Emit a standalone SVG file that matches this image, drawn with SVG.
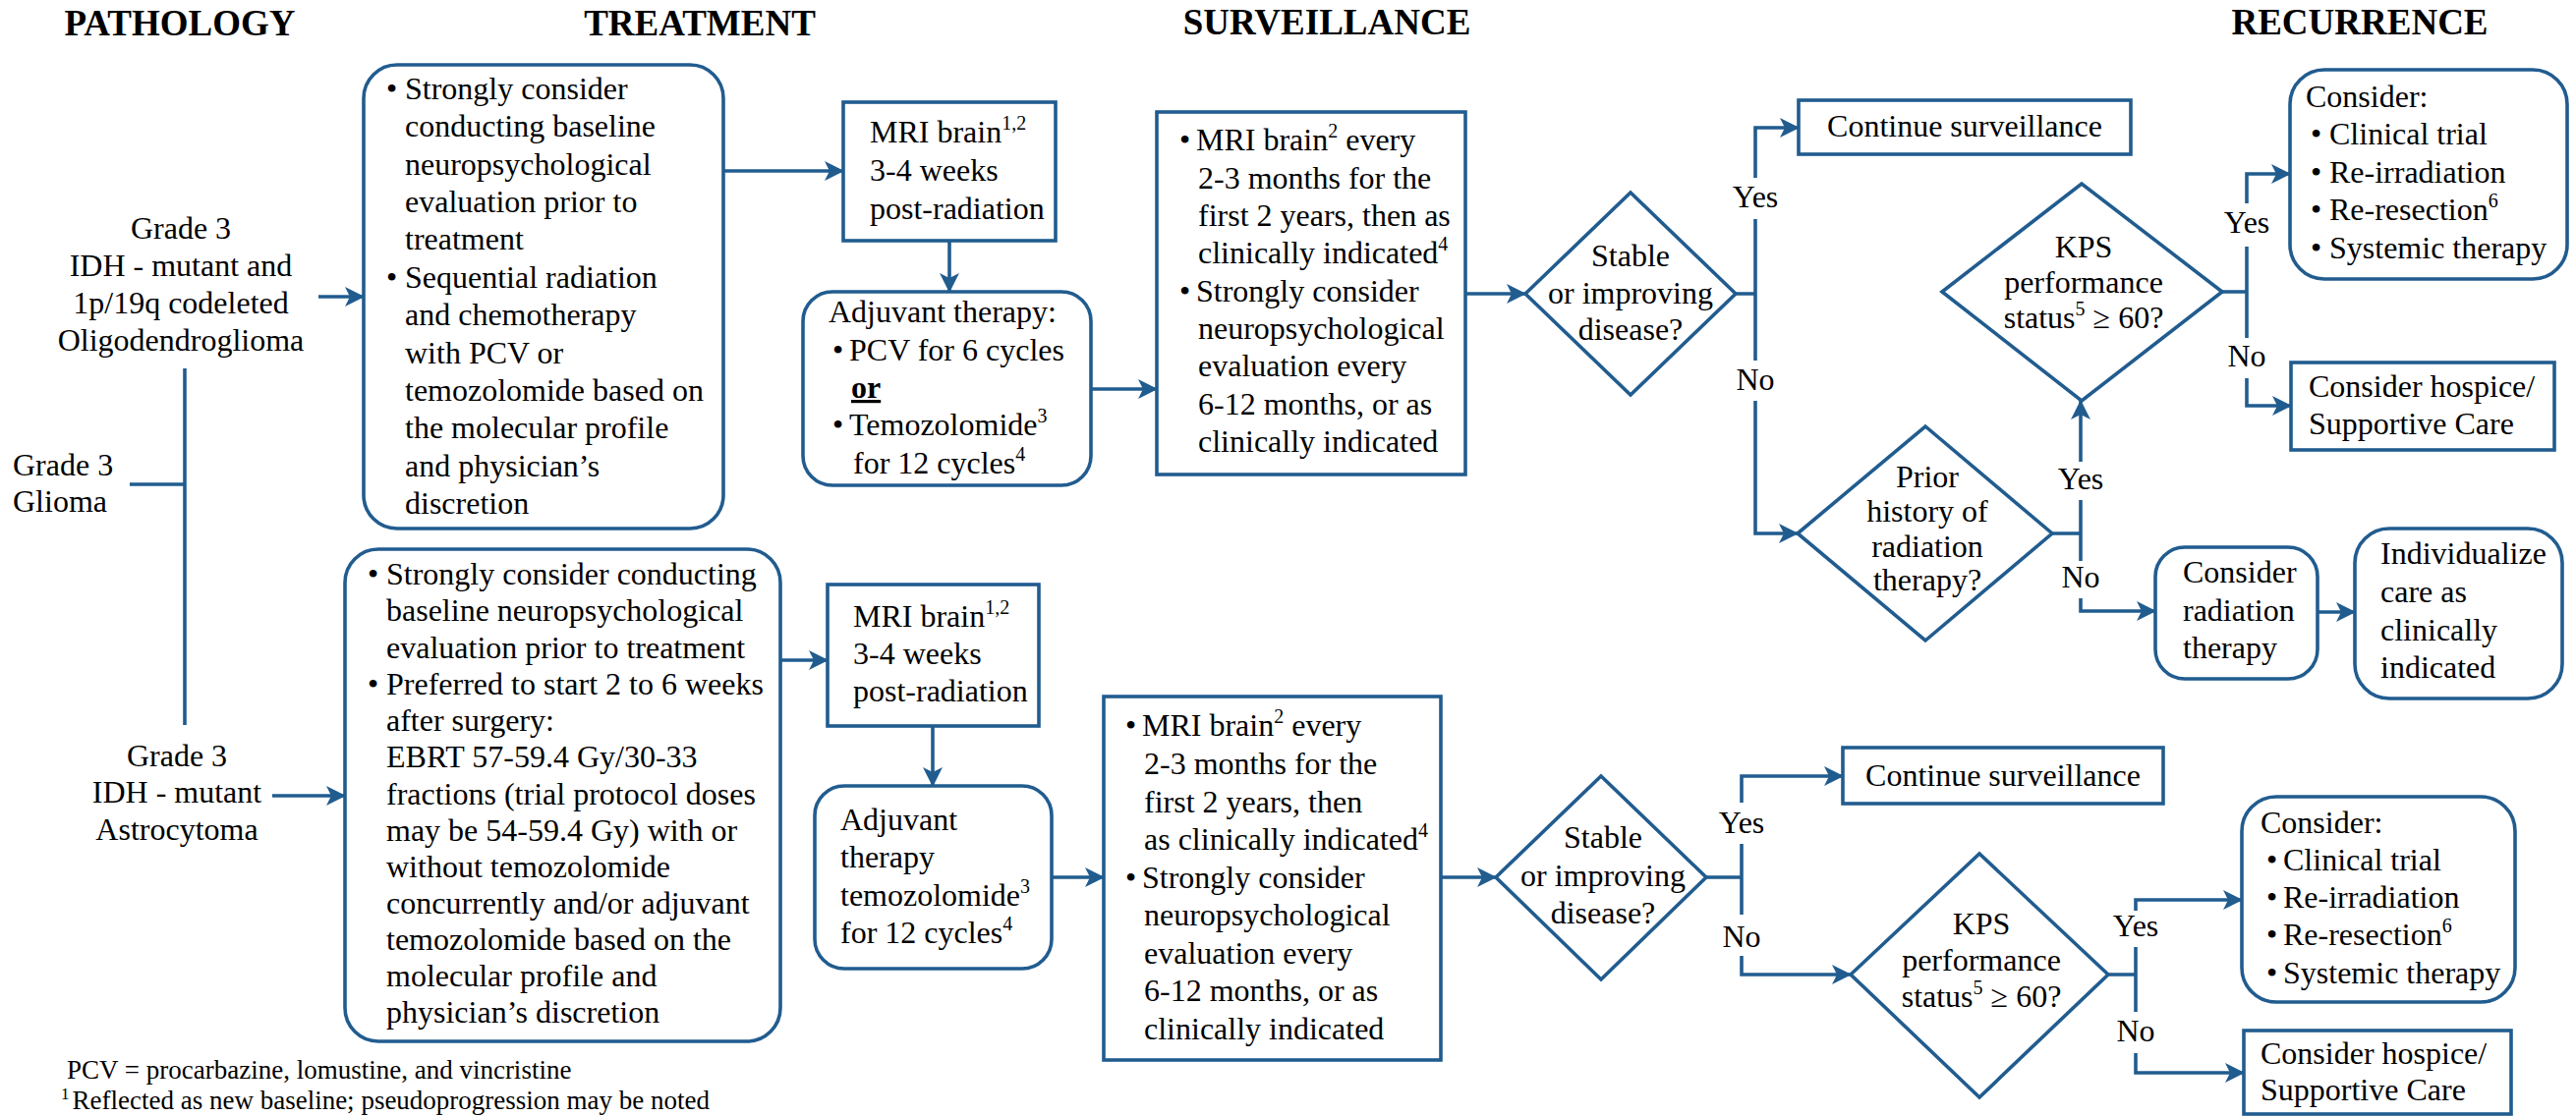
<svg xmlns="http://www.w3.org/2000/svg" width="2621" height="1136" viewBox="0 0 2621 1136">
<style>
text{font-family:"Liberation Serif","Times New Roman",serif;font-size:32px;fill:#000}
.h{font-weight:bold;font-size:37px;text-anchor:middle}
.c{text-anchor:middle}
.f{font-size:27px}
.box{fill:#fff;stroke:#215C8F;stroke-width:3.6}
.ln{fill:none;stroke:#215C8F;stroke-width:3.6}
.ar{marker-end:url(#ah)}
</style>
<defs>
<marker id="ah" markerUnits="userSpaceOnUse" markerWidth="22" markerHeight="20" refX="19" refY="10" orient="auto"><path d="M0,0 L20,10 L0,20 L5,10 z" fill="#215C8F"/></marker>
</defs>
<rect width="2621" height="1136" fill="#fff"/>

<g id="headings">
<text class="h" x="183" y="36">PATHOLOGY</text>
<text class="h" x="712" y="36">TREATMENT</text>
<text class="h" x="1350" y="35">SURVEILLANCE</text>
<text class="h" x="2401" y="35">RECURRENCE</text>
</g>

<g id="connectors">
<path class="ln ar" d="M324,302 H370"/>
<path class="ln" d="M132,493 H188 M188,375 V738"/>
<path class="ln ar" d="M277,810 H351"/>
<path class="ln ar" d="M736,174 H858"/>
<path class="ln ar" d="M966,245 V297"/>
<path class="ln ar" d="M1110,396 H1177"/>
<path class="ln ar" d="M1491,299 H1552"/>
<path class="ln" d="M1766,299 H1786 M1786,223 V367"/>
<path class="ln ar" d="M1786,181 V130 H1830"/>
<path class="ln ar" d="M1786,408 V543 H1829"/>
<path class="ln" d="M2088,543 H2117 M2117,509 V571"/>
<path class="ln ar" d="M2117,470 V408"/>
<path class="ln ar" d="M2117,609 V622 H2193"/>
<path class="ln" d="M2261,297 H2286 M2286,251 V344"/>
<path class="ln ar" d="M2286,207 V177 H2330"/>
<path class="ln ar" d="M2286,385 V413 H2331"/>
<path class="ln ar" d="M2358,623 H2396"/>
<path class="ln ar" d="M794,672 H842"/>
<path class="ln ar" d="M949,739 V800"/>
<path class="ln ar" d="M1070,893 H1123"/>
<path class="ln ar" d="M1466,893 H1522"/>
<path class="ln" d="M1736,893 H1772 M1772,859 V931"/>
<path class="ln ar" d="M1772,817 V790 H1875"/>
<path class="ln ar" d="M1772,973 V992 H1883"/>
<path class="ln" d="M2145,992 H2173 M2173,964 V1030"/>
<path class="ln ar" d="M2173,927 V916 H2281"/>
<path class="ln ar" d="M2173,1072 V1092 H2283"/>
<g class="lbl">
<text class="c" x="1786" y="211">Yes</text>
<text class="c" x="1786" y="397">No</text>
<text class="c" x="2117" y="498">Yes</text>
<text class="c" x="2117" y="598">No</text>
<text class="c" x="2286" y="237">Yes</text>
<text class="c" x="2286" y="373">No</text>
<text class="c" x="1772" y="848">Yes</text>
<text class="c" x="1772" y="964">No</text>
<text class="c" x="2173" y="953">Yes</text>
<text class="c" x="2173" y="1060">No</text>
</g>
</g>

<g id="path-olig">
<text class="c" x="184" y="243">Grade 3</text>
<text class="c" x="184" y="281">IDH - mutant and</text>
<text class="c" x="184" y="319">1p/19q codeleted</text>
<text class="c" x="184" y="357">Oligodendroglioma</text>
</g>
<g id="path-glioma">
<text x="13" y="484">Grade 3</text>
<text x="13" y="521">Glioma</text>
</g>
<g id="path-astro">
<text class="c" x="180" y="780">Grade 3</text>
<text class="c" x="180" y="817">IDH - mutant</text>
<text class="c" x="180" y="855">Astrocytoma</text>
</g>

<g id="treat1">
<rect class="box" x="370" y="66" width="366" height="472" rx="34"/>
<text x="393" y="101">•</text><text x="412" y="101">Strongly consider</text>
<text x="412" y="139">conducting baseline</text>
<text x="412" y="178">neuropsychological</text>
<text x="412" y="216">evaluation prior to</text>
<text x="412" y="254">treatment</text>
<text x="393" y="293">•</text><text x="412" y="293">Sequential radiation</text>
<text x="412" y="331">and chemotherapy</text>
<text x="412" y="370">with PCV or</text>
<text x="412" y="408">temozolomide based on</text>
<text x="412" y="446">the molecular profile</text>
<text x="412" y="485">and physician’s</text>
<text x="412" y="523">discretion</text>
</g>

<g id="treat2">
<rect class="box" x="351" y="559" width="443" height="501" rx="34"/>
<text x="374" y="595">•</text><text x="393" y="595">Strongly consider conducting</text>
<text x="393" y="632">baseline neuropsychological</text>
<text x="393" y="670">evaluation prior to treatment</text>
<text x="374" y="707">•</text><text x="393" y="707">Preferred to start 2 to 6 weeks</text>
<text x="393" y="744">after surgery:</text>
<text x="393" y="781">EBRT 57-59.4 Gy/30-33</text>
<text x="393" y="819">fractions (trial protocol doses</text>
<text x="393" y="856">may be 54-59.4 Gy) with or</text>
<text x="393" y="893">without temozolomide</text>
<text x="393" y="930">concurrently and/or adjuvant</text>
<text x="393" y="967">temozolomide based on the</text>
<text x="393" y="1004">molecular profile and</text>
<text x="393" y="1041">physician’s discretion</text>
</g>

<g id="mri1">
<rect class="box" x="858" y="104" width="216" height="141"/>
<text x="885" y="145">MRI brain<tspan font-size="20" dy="-13">1,2</tspan></text>
<text x="885" y="184">3-4 weeks</text>
<text x="885" y="223">post-radiation</text>
</g>

<g id="adj1">
<rect class="box" x="817" y="297" width="293" height="197" rx="30"/>
<text x="843" y="328">Adjuvant therapy:</text>
<text x="847" y="367">•</text><text x="864" y="367">PCV for 6 cycles</text>
<text x="866" y="405" font-weight="bold" text-decoration="underline">or</text>
<text x="847" y="443">•</text><text x="864" y="443">Temozolomide<tspan font-size="20" dy="-13">3</tspan></text>
<text x="868" y="482">for 12 cycles<tspan font-size="20" dy="-13">4</tspan></text>
</g>

<g id="surv1">
<rect class="box" x="1177" y="114" width="314" height="369"/>
<text x="1200" y="153">•</text><text x="1217" y="153">MRI brain<tspan font-size="20" dy="-13">2</tspan><tspan dy="13"> every</tspan></text>
<text x="1219" y="192">2-3 months for the</text>
<text x="1219" y="230">first 2 years, then as</text>
<text x="1219" y="268">clinically indicated<tspan font-size="20" dy="-13">4</tspan></text>
<text x="1200" y="307">•</text><text x="1217" y="307">Strongly consider</text>
<text x="1219" y="345">neuropsychological</text>
<text x="1219" y="383">evaluation every</text>
<text x="1219" y="422">6-12 months, or as</text>
<text x="1219" y="460">clinically indicated</text>
</g>

<g id="dec1">
<polygon class="box" points="1552,299 1659,196 1766,299 1659,402"/>
<text class="c" x="1659" y="271">Stable</text>
<text class="c" x="1659" y="309">or improving</text>
<text class="c" x="1659" y="346">disease?</text>
</g>

<g id="cont1">
<rect class="box" x="1830" y="102" width="338" height="55"/>
<text class="c" x="1999" y="139">Continue surveillance</text>
</g>

<g id="kps1">
<polygon class="box" points="1976,297 2118,187 2261,297 2118,408"/>
<text class="c" x="2120" y="262">KPS</text>
<text class="c" x="2120" y="298">performance</text>
<text class="c" x="2120" y="334">status<tspan font-size="20" dy="-13">5</tspan><tspan dy="13"> ≥ 60?</tspan></text>
</g>

<g id="prior">
<polygon class="box" points="1829,543 1959,434 2088,543 1959,652"/>
<text class="c" x="1961" y="496">Prior</text>
<text class="c" x="1961" y="531">history of</text>
<text class="c" x="1961" y="567">radiation</text>
<text class="c" x="1961" y="601">therapy?</text>
</g>

<g id="consider1">
<rect class="box" x="2330" y="71" width="282" height="213" rx="35"/>
<text x="2346" y="109">Consider:</text>
<text x="2351" y="147">•</text><text x="2370" y="147">Clinical trial</text>
<text x="2351" y="186">•</text><text x="2370" y="186">Re-irradiation</text>
<text x="2351" y="224">•</text><text x="2370" y="224">Re-resection<tspan font-size="20" dy="-13">6</tspan></text>
<text x="2351" y="263">•</text><text x="2370" y="263">Systemic therapy</text>
</g>

<g id="hospice1">
<rect class="box" x="2331" y="369" width="268" height="89"/>
<text x="2349" y="404">Consider hospice/</text>
<text x="2349" y="442">Supportive Care</text>
</g>

<g id="radiation">
<rect class="box" x="2193" y="557" width="165" height="134" rx="30"/>
<text x="2221" y="593">Consider</text>
<text x="2221" y="632">radiation</text>
<text x="2221" y="670">therapy</text>
</g>

<g id="individualize">
<rect class="box" x="2396" y="538" width="211" height="173" rx="35"/>
<text x="2422" y="574">Individualize</text>
<text x="2422" y="613">care as</text>
<text x="2422" y="652">clinically</text>
<text x="2422" y="690">indicated</text>
</g>

<g id="mri2">
<rect class="box" x="842" y="595" width="215" height="144"/>
<text x="868" y="638">MRI brain<tspan font-size="20" dy="-13">1,2</tspan></text>
<text x="868" y="676">3-4 weeks</text>
<text x="868" y="714">post-radiation</text>
</g>

<g id="adj2">
<rect class="box" x="829" y="800" width="241" height="186" rx="30"/>
<text x="855" y="845">Adjuvant</text>
<text x="855" y="883">therapy</text>
<text x="855" y="922">temozolomide<tspan font-size="20" dy="-13">3</tspan></text>
<text x="855" y="960">for 12 cycles<tspan font-size="20" dy="-13">4</tspan></text>
</g>

<g id="surv2">
<rect class="box" x="1123" y="709" width="343" height="370"/>
<text x="1145" y="749">•</text><text x="1162" y="749">MRI brain<tspan font-size="20" dy="-13">2</tspan><tspan dy="13"> every</tspan></text>
<text x="1164" y="788">2-3 months for the</text>
<text x="1164" y="827">first 2 years, then</text>
<text x="1164" y="865">as clinically indicated<tspan font-size="20" dy="-13">4</tspan></text>
<text x="1145" y="904">•</text><text x="1162" y="904">Strongly consider</text>
<text x="1164" y="942">neuropsychological</text>
<text x="1164" y="981">evaluation every</text>
<text x="1164" y="1019">6-12 months, or as</text>
<text x="1164" y="1058">clinically indicated</text>
</g>

<g id="dec2">
<polygon class="box" points="1522,893 1629,790 1736,893 1629,997"/>
<text class="c" x="1631" y="863">Stable</text>
<text class="c" x="1631" y="902">or improving</text>
<text class="c" x="1631" y="940">disease?</text>
</g>

<g id="cont2">
<rect class="box" x="1875" y="761" width="326" height="57"/>
<text class="c" x="2038" y="800">Continue surveillance</text>
</g>

<g id="kps2">
<polygon class="box" points="1883,992 2014,869 2145,992 2014,1117"/>
<text class="c" x="2016" y="951">KPS</text>
<text class="c" x="2016" y="988">performance</text>
<text class="c" x="2016" y="1025">status<tspan font-size="20" dy="-13">5</tspan><tspan dy="13"> ≥  60?</tspan></text>
</g>

<g id="consider2">
<rect class="box" x="2281" y="811" width="278" height="209" rx="35"/>
<text x="2300" y="848">Consider:</text>
<text x="2306" y="886">•</text><text x="2323" y="886">Clinical trial</text>
<text x="2306" y="924">•</text><text x="2323" y="924">Re-irradiation</text>
<text x="2306" y="962">•</text><text x="2323" y="962">Re-resection<tspan font-size="20" dy="-13">6</tspan></text>
<text x="2306" y="1001">•</text><text x="2323" y="1001">Systemic therapy</text>
</g>

<g id="hospice2">
<rect class="box" x="2283" y="1049" width="272" height="85"/>
<text x="2300" y="1083">Consider hospice/</text>
<text x="2300" y="1120">Supportive Care</text>
</g>

<g id="footnotes">
<text class="f" x="68" y="1098">PCV = procarbazine, lomustine, and vincristine</text>
<text class="f" x="62" y="1129"><tspan font-size="17" dy="-10">1</tspan><tspan dx="3" dy="10">Reflected as new baseline; pseudoprogression may be noted</tspan></text>
</g>
</svg>
